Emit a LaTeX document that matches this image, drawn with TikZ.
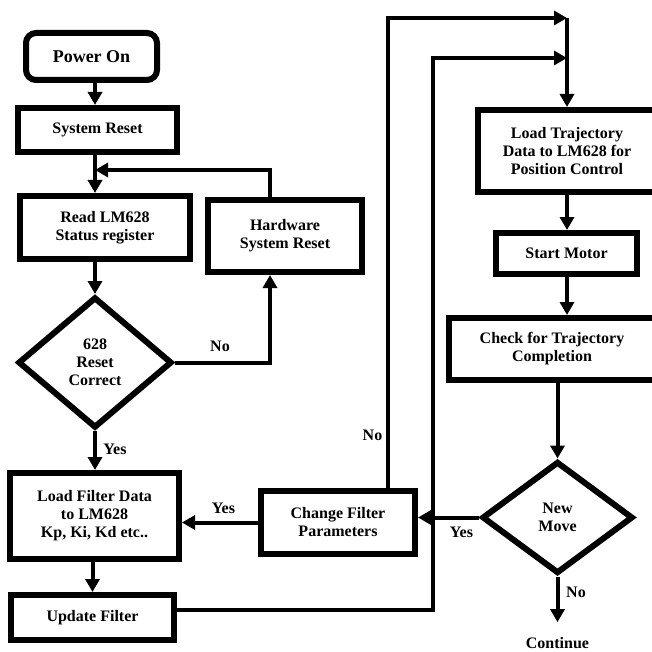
\documentclass[tikz,border=0pt]{standalone}
\usepackage{fontspec}
\setmainfont{Liberation Serif}
\usetikzlibrary{positioning,shapes,arrows.meta,calc}

\begin{document}
\begin{tikzpicture}[x=1pt,y=-1pt,
    box/.style={draw=black,line width=6pt,rectangle,inner sep=0pt,align=center,font=\bfseries\fontsize{16}{18}\selectfont},
    decision/.style={draw=black,line width=6pt,diamond,inner sep=0pt,align=center,font=\bfseries\fontsize{16}{18}\selectfont},
    arr/.style={line width=4pt,-{Triangle[length=13pt,width=14pt]}},
    wire/.style={line width=4pt},
    lbl/.style={inner sep=0pt,font=\bfseries\fontsize{16}{18}\selectfont}]

        \useasboundingbox (0,0) rectangle (652,652);
        \clip (0,0) rectangle (652,652);

        % left column
        \node[box,rounded corners=10pt,minimum width=131pt,minimum height=47pt,font=\bfseries\fontsize{18}{20}\selectfont] (power) at (91.5,56.5) {Power On};
        \node[box,minimum width=159pt,minimum height=44pt] (sysreset) at (97.5,130) {System Reset};
        \node[box,minimum width=170pt,minimum height=63pt] (readlm) at (105,227.5) {Read LM628\\Status register};
        \node[box,minimum width=154pt,minimum height=72pt] (hwreset) at (285,236) {Hardware\\System Reset};
        \node[decision,minimum width=154pt,minimum height=131pt] (check628) at (95,362.5) {628\\Reset\\Correct};
        \node[box,minimum width=169pt,minimum height=86pt] (loadfilter) at (94.5,516) {Load Filter Data\\to LM628\\Kp, Ki, Kd etc..};
        \node[box,minimum width=163pt,minimum height=45pt] (update) at (92.5,617.5) {Update Filter};
        \node[box,minimum width=154pt,minimum height=63pt] (change) at (338,522.5) {Change Filter\\Parameters};

        % right column
        \node[box,minimum width=178pt,minimum height=82pt] (loadtraj) at (567,151) {Load Trajectory\\Data to LM628 for\\Position Control};
        \node[box,minimum width=141pt,minimum height=41pt] (startm) at (566.5,253.5) {Start Motor};
        \node[box,minimum width=206pt,minimum height=62pt] (checkt) at (552,349) {Check for Trajectory\\Completion};
        \node[decision,minimum width=151pt,minimum height=112pt] (newmove) at (557.5,517.5) {New\\Move};
        \node[lbl] (cont) at (557.5,643) {Continue};

        % turning points
        \coordinate (colA) at (95,0);
        \coordinate (colB) at (567,0);
        \coordinate (fb) at (270,170);
        \coordinate (nox) at (388,18);
        \coordinate (jn) at (567,18);
        \coordinate (upx) at (433,610);
        \coordinate (jn2) at (567,58);

        \draw[arr] (power.south -| colA) to (sysreset.north -| colA);
        \draw[arr] (sysreset.south -| colA) to (readlm.north -| colA);
        \draw[arr] (readlm.south -| colA) to (check628.north);
        \draw[arr] (check628.south) to (loadfilter.north -| check628);
        \draw[arr] (loadfilter.south -| update) to (update.north);
        \draw[arr] (check628.east) -| (hwreset.south -| fb);
        \draw[arr] (hwreset.north -| fb) -- (fb) -- (fb -| colA);
        \draw[arr] (change.west) to (change.west -| loadfilter.east);
        \draw[arr] (change.north -| nox) |- (jn);
        \draw[arr] (update.east |- upx) -- (upx) |- (jn2);
        \draw[arr] (jn) to (loadtraj.north -| colB);
        \draw[arr] (loadtraj.south -| colB) to (startm.north -| colB);
        \draw[arr] (startm.south -| colB) to (checkt.north -| colB);
        \draw[arr] (checkt.south -| newmove) to (newmove.north);
        \draw[arr] (newmove.west) to (newmove.west -| change.east);
        \draw[arr,shorten >=15pt] (newmove.south) to (cont.north);

        \node[lbl] (no1) at (220,346) {No};
        \node[lbl] (yes1) at (115,449) {Yes};
        \node[lbl] (yes2) at (223.5,508) {Yes};
        \node[lbl] (no2) at (372.5,435) {No};
        \node[lbl] (yes3) at (461.5,532) {Yes};
        \node[lbl] (no3) at (576,592) {No};
    \end{tikzpicture}
\end{document}
